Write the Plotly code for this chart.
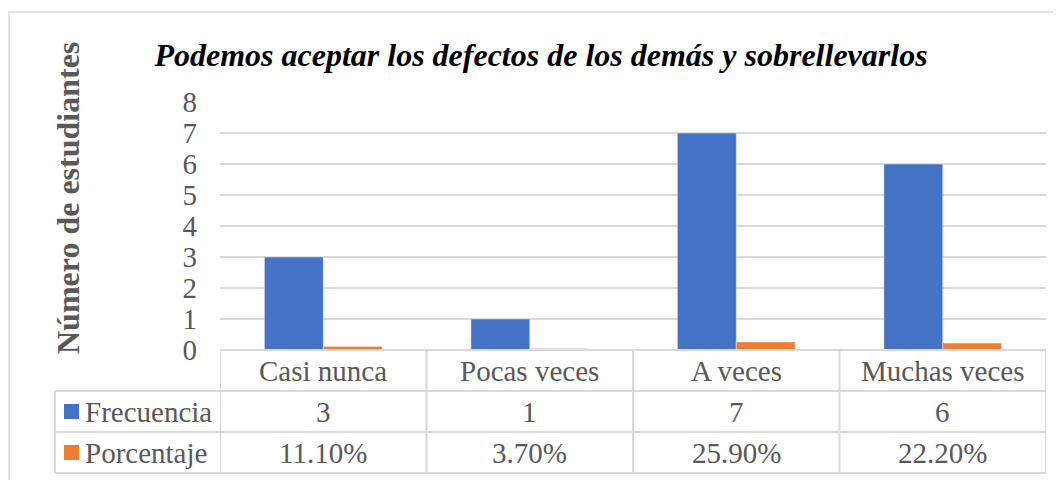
import plotly.graph_objects as go

# data
categorias = ["Casi nunca", "Pocas veces", "A veces", "Muchas veces"]
frecuencia = [3, 1, 7, 6]
porcentaje = [0.111, 0.037, 0.259, 0.222]
series = ["Frecuencia", "Porcentaje"]
y_ticks = [0, 1, 2, 3, 4, 5, 6, 7, 8]

AZUL = "#4472C4"
NARANJA = "#ED7D31"
GRIS = "#595959"
LINEA = "#D9D9D9"
FUENTE = "Liberation Serif, Times New Roman, serif"

# page body has an 8px margin, so the figure sits at (8, 8)
OFF = 8
W, H = 1061 - OFF, 480 - OFF
L, R, T, B = 220 - OFF, 15, 102 - OFF, 130
PH = H - T - B
PW = W - L - R


def py(pix):
    # page pixel row -> paper y
    return (H - B - (pix - OFF)) / PH


def px(pix):
    # page pixel column -> paper x
    return (pix - OFF - L) / PW


fig = go.Figure()
fig.add_trace(go.Bar(x=categorias, y=frecuencia, name=series[0], marker_color=AZUL))
fig.add_trace(go.Bar(x=categorias, y=porcentaje, name=series[1], marker_color=NARANJA))

shapes = []
anns = []

# outer chart border
shapes.append(dict(type="rect", xref="paper", yref="paper", x0=px(9), x1=px(1080),
                   y0=py(495), y1=py(12), line=dict(color=LINEA, width=1.5)))

# data table grid
fila_ys = [350, 391, 432, 473]
n = len(categorias)
for i in range(n + 1):
    shapes.append(dict(type="line", xref="x", yref="paper", x0=i - 0.5, x1=i - 0.5,
                       y0=py(fila_ys[0]), y1=py(fila_ys[-1]), line=dict(color=LINEA, width=2)))
shapes.append(dict(type="line", xref="paper", yref="paper", x0=px(55), x1=px(55),
                   y0=py(fila_ys[1]), y1=py(fila_ys[-1]), line=dict(color=LINEA, width=2)))
shapes.append(dict(type="line", xref="x", yref="paper", x0=-0.5, x1=n - 0.5,
                   y0=py(fila_ys[0]), y1=py(fila_ys[0]), line=dict(color=LINEA, width=2)))
for yy in fila_ys[1:]:
    shapes.append(dict(type="line", xref="paper", yref="paper", x0=px(55), x1=1,
                       y0=py(yy), y1=py(yy), line=dict(color=LINEA, width=2)))

# header row: categories
for c in categorias:
    anns.append(dict(x=c, y=py(371), xref="x", yref="paper", text=c, showarrow=False,
                     xanchor="center", yanchor="middle",
                     font=dict(family=FUENTE, size=29, color=GRIS)))

# value rows
filas = [
    (series[0], AZUL, [str(v) for v in frecuencia], 411.5),
    (series[1], NARANJA, [f"{v * 100:.2f}%" for v in porcentaje], 452.5),
]
for nombre, color, textos, yc in filas:
    shapes.append(dict(type="rect", xref="paper", yref="paper", x0=px(64), x1=px(79),
                       y0=py(yc + 7.5), y1=py(yc - 7.5), fillcolor=color, line=dict(width=0)))
    anns.append(dict(x=px(83), y=py(yc), xref="paper", yref="paper", text=nombre,
                     showarrow=False, xanchor="left", yanchor="middle",
                     font=dict(family=FUENTE, size=29, color=GRIS)))
    for c, t in zip(categorias, textos):
        anns.append(dict(x=c, y=py(yc), xref="x", yref="paper", text=t, showarrow=False,
                         xanchor="center", yanchor="middle",
                         font=dict(family=FUENTE, size=29, color=GRIS)))

# y-axis title
anns.append(dict(x=px(68), y=py(198), xref="paper", yref="paper",
                 text="<b>Número de estudiantes</b>", textangle=-90, showarrow=False,
                 xanchor="center", yanchor="middle",
                 font=dict(family=FUENTE, size=32, color=GRIS)))

fig.update_layout(
    width=W, height=H,
    margin=dict(l=L, r=R, t=T, b=B),
    paper_bgcolor="white", plot_bgcolor="white",
    barmode="group", bargap=0.43, bargroupgap=0,
    showlegend=False,
    title=dict(text="<b><i>Podemos aceptar los defectos de los demás y sobrellevarlos</i></b>",
               xref="container", x=(541 - OFF) / W, xanchor="center",
               yref="container", y=1 - (55 - OFF) / H, yanchor="middle",
               font=dict(family=FUENTE, size=32, color="black")),
    xaxis=dict(showticklabels=False, showgrid=False, zeroline=False, showline=False,
               range=[-0.5, n - 0.5]),
    yaxis=dict(range=[0, 8], tickvals=y_ticks, showgrid=True, gridcolor=LINEA, gridwidth=1.5,
               zeroline=False, showline=False, ticklabelstandoff=22,
               tickfont=dict(family=FUENTE, size=29, color=GRIS)),
    shapes=shapes,
    annotations=anns,
)

fig.write_html("out.html")
